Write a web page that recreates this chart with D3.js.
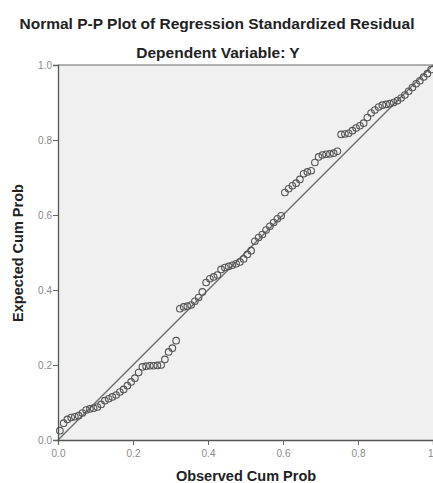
<!DOCTYPE html>
<html><head><meta charset="utf-8">
<script src="https://cdn.jsdelivr.net/npm/d3@7"></script>
<style>html,body{margin:0;padding:0;background:#fff;}svg{display:block;}</style>
</head><body>
<script>
const titleText = "Normal P-P Plot of Regression Standardized Residual";
const subtitleText = "Dependent Variable: Y";
const xLabel = "Observed Cum Prob";
const yLabel = "Expected Cum Prob";
const tickValues = [0, 0.2, 0.4, 0.6, 0.8, 1];
const tickLabels = ["0.0", "0.2", "0.4", "0.6", "0.8", "1.0"];
const xTickLabels = ["0.0", "0.2", "0.4", "0.6", "0.8", "1"];

const observed = [0.005,0.015,0.025,0.035,0.045,0.055,0.065,0.075,0.085,0.095,
0.105,0.115,0.125,0.135,0.145,0.155,0.165,0.175,0.185,0.195,
0.205,0.215,0.225,0.235,0.245,0.255,0.265,0.275,0.285,0.295,
0.305,0.315,0.325,0.335,0.345,0.355,0.365,0.375,0.385,0.395,
0.405,0.415,0.425,0.435,0.445,0.455,0.465,0.475,0.485,0.495,
0.505,0.515,0.525,0.535,0.545,0.555,0.565,0.575,0.585,0.595,
0.605,0.615,0.625,0.635,0.645,0.655,0.665,0.675,0.685,0.695,
0.705,0.715,0.725,0.735,0.745,0.755,0.765,0.775,0.785,0.795,
0.805,0.815,0.825,0.835,0.845,0.855,0.865,0.875,0.885,0.895,
0.905,0.915,0.925,0.935,0.945,0.955,0.965,0.975,0.985,0.995];

const expected = [0.025,0.045,0.055,0.060,0.062,0.065,0.072,0.080,0.083,0.085,
0.088,0.095,0.105,0.110,0.115,0.120,0.128,0.135,0.145,0.155,
0.165,0.180,0.195,0.197,0.198,0.198,0.199,0.200,0.215,0.235,
0.245,0.265,0.350,0.355,0.357,0.360,0.370,0.380,0.395,0.420,
0.430,0.435,0.440,0.455,0.460,0.463,0.466,0.470,0.475,0.483,
0.495,0.505,0.530,0.540,0.548,0.560,0.570,0.580,0.590,0.598,
0.660,0.670,0.678,0.685,0.695,0.710,0.715,0.718,0.740,0.755,
0.760,0.762,0.763,0.765,0.770,0.815,0.816,0.818,0.825,0.832,
0.838,0.845,0.860,0.872,0.880,0.888,0.893,0.895,0.897,0.900,
0.905,0.912,0.920,0.930,0.940,0.950,0.958,0.968,0.977,0.988];

const data = observed.map((o, i) => ({o, e: expected[i]}));

const W = 433, H = 483;
const m = {left: 58, right: 0, top: 65, bottom: 43};
const svg = d3.select("body").append("svg").attr("width", W).attr("height", H);

const x = d3.scaleLinear().domain([0, 1]).range([m.left, W - m.right]);
const y = d3.scaleLinear().domain([0, 1]).range([H - m.bottom, m.top]);

svg.append("rect").attr("x", x(0)).attr("y", y(1))
  .attr("width", x(1) - x(0)).attr("height", y(0) - y(1)).attr("fill", "#f0f0f0");

svg.append("line").attr("x1", x(0)).attr("x2", x(1)).attr("y1", y(1)).attr("y2", y(1))
  .attr("stroke", "#666").attr("stroke-width", 1);

svg.append("line").attr("x1", x(0)).attr("y1", y(0)).attr("x2", x(1)).attr("y2", y(1))
  .attr("stroke", "#6e6e6e").attr("stroke-width", 1.5);

svg.append("g").selectAll("circle").data(data).join("circle")
  .attr("cx", d => x(d.o)).attr("cy", d => y(d.e)).attr("r", 3.3)
  .attr("fill", "none").attr("stroke", "#555").attr("stroke-width", 1.1);

const font = "Liberation Sans, Arial, sans-serif";
const xAxis = svg.append("g").attr("transform", `translate(0,${y(0)})`)
  .call(d3.axisBottom(x).tickValues(tickValues).tickSize(5).tickFormat((d, i) => xTickLabels[i]));
const yAxis = svg.append("g").attr("transform", `translate(${x(0)},0)`)
  .call(d3.axisLeft(y).tickValues(tickValues).tickSize(5).tickFormat((d, i) => tickLabels[i]));
[xAxis, yAxis].forEach(a => {
  a.select(".domain").attr("stroke", "#555").attr("stroke-width", 1.3);
  a.selectAll(".tick line").attr("stroke", "#666");
  a.selectAll(".tick text").attr("fill", "#8a8a8a").style("font-family", font).style("font-size", "10px");
});
xAxis.selectAll(".tick text").attr("dy", "0.85em");
xAxis.selectAll(".tick text").filter(d => d === 1).attr("text-anchor", "end").attr("x", 0);
yAxis.selectAll(".tick text").attr("x", -6);

svg.append("text").attr("x", 217).attr("y", 29).attr("text-anchor", "middle")
  .style("font-family", font).style("font-weight", "bold").style("font-size", "15.5px").attr("fill", "#222").text(titleText);
svg.append("text").attr("x", 218).attr("y", 58).attr("text-anchor", "middle")
  .style("font-family", font).style("font-weight", "bold").style("font-size", "15.5px").attr("fill", "#222").text(subtitleText);
svg.append("text").attr("x", 246).attr("y", 481).attr("text-anchor", "middle")
  .style("font-family", font).style("font-weight", "bold").style("font-size", "14.5px").attr("fill", "#222").text(xLabel);
svg.append("text").attr("transform", "translate(23,253) rotate(-90)").attr("text-anchor", "middle")
  .style("font-family", font).style("font-weight", "bold").style("font-size", "14.5px").attr("fill", "#222").text(yLabel);
</script>
</body></html>
